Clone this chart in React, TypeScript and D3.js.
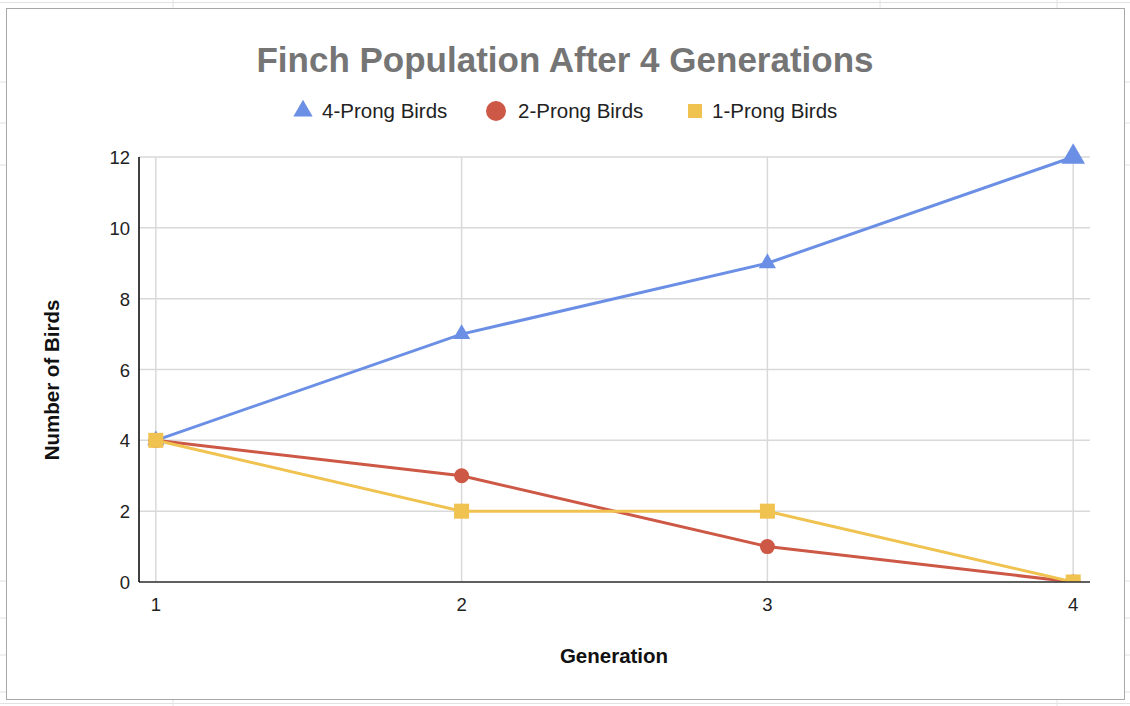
import React, { useEffect, useRef } from "react";
import * as d3 from "d3";

const generations = [1, 2, 3, 4];
const fourProng = [4, 7, 9, 12];
const twoProng = [4, 3, 1, 0];
const oneProng = [4, 2, 2, 0];
const yTicks = [0, 2, 4, 6, 8, 10, 12];

const series = [
  { name: "4-Prong Birds", values: fourProng, color: "#6b8fe5", shape: "triangle" },
  { name: "2-Prong Birds", values: twoProng, color: "#cd5846", shape: "circle" },
  { name: "1-Prong Birds", values: oneProng, color: "#f0c24f", shape: "square" },
];

const W = 1130;
const H = 706;
const FONT = "'Liberation Sans', Arial, sans-serif";

const drawMarker = (g: any, shape: string, color: string, size: number) => {
  if (shape === "triangle") {
    g.append("path")
      .attr("d", d3.symbol().type(d3.symbolTriangle).size(size * size * 0.5)())
      .attr("fill", color);
  } else if (shape === "circle") {
    g.append("circle").attr("r", size / 2).attr("fill", color);
  } else {
    g.append("rect")
      .attr("x", -size / 2)
      .attr("y", -size / 2)
      .attr("width", size)
      .attr("height", size)
      .attr("fill", color);
  }
};

const App = () => {
  const svgRef = useRef<SVGSVGElement>(null);

  useEffect(() => {
    const svg = d3.select(svgRef.current);
    svg.selectAll("*").remove();

    const left = 139;
    const right = 1090;
    const top = 157;
    const bottom = 582;

    // faint sheet cell lines around the chart frame
    const sheet = svg.append("g").attr("stroke", "#e2e2e2").attr("stroke-width", 1);
    sheet.append("line").attr("x1", 0).attr("x2", W).attr("y1", 2.5).attr("y2", 2.5);
    sheet.append("line").attr("x1", 0).attr("x2", W).attr("y1", 703.5).attr("y2", 703.5);
    [173, 880, 1057].forEach((x) =>
      sheet.append("line").attr("x1", x).attr("x2", x).attr("y1", 0).attr("y2", 8)
    );
    [173, 1057].forEach((x) =>
      sheet.append("line").attr("x1", x).attr("x2", x).attr("y1", 700).attr("y2", H)
    );
    [82, 123, 165, 581, 618, 655, 692].forEach((y) => {
      sheet.append("line").attr("x1", 0).attr("x2", 6).attr("y1", y).attr("y2", y);
      sheet.append("line").attr("x1", 1125).attr("x2", W).attr("y1", y).attr("y2", y);
    });

    svg
      .append("rect")
      .attr("x", 6.5)
      .attr("y", 8.5)
      .attr("width", 1118)
      .attr("height", 691)
      .attr("fill", "#fff")
      .attr("stroke", "#a8a8a8");

    const x = d3
      .scalePoint<number>()
      .domain(generations)
      .range([left, right])
      .padding(0.055);
    const y = d3.scaleLinear().domain([0, 12]).range([bottom, top]);

    // grid
    const grid = svg.append("g").attr("stroke", "#d9d9d9").attr("stroke-width", 1.5);
    yTicks.forEach((t) =>
      grid
        .append("line")
        .attr("x1", left)
        .attr("x2", right)
        .attr("y1", y(t))
        .attr("y2", y(t))
    );
    generations.forEach((g) =>
      grid
        .append("line")
        .attr("x1", x(g)!)
        .attr("x2", x(g)!)
        .attr("y1", top)
        .attr("y2", bottom)
    );

    // tick labels
    svg
      .append("g")
      .selectAll("text")
      .data(yTicks)
      .join("text")
      .attr("x", left - 9)
      .attr("y", (d) => y(d) + 7)
      .attr("text-anchor", "end")
      .attr("font-family", FONT)
      .attr("font-size", 18.5)
      .attr("fill", "#222")
      .text((d) => d);
    svg
      .append("g")
      .selectAll("text")
      .data(generations)
      .join("text")
      .attr("x", (d) => x(d)!)
      .attr("y", bottom + 29)
      .attr("text-anchor", "middle")
      .attr("font-family", FONT)
      .attr("font-size", 18.5)
      .attr("fill", "#222")
      .text((d) => d);

    svg
      .append("defs")
      .append("clipPath")
      .attr("id", "plot-clip")
      .append("rect")
      .attr("x", 0)
      .attr("y", 0)
      .attr("width", W)
      .attr("height", bottom);

    const plot = svg.append("g").attr("clip-path", "url(#plot-clip)");
    const line = d3
      .line<number>()
      .x((_, i) => x(generations[i])!)
      .y((d) => y(d));

    series.forEach((s) => {
      plot
        .append("path")
        .attr("d", line(s.values))
        .attr("fill", "none")
        .attr("stroke", s.color)
        .attr("stroke-width", 3);
    });
    series.forEach((s) => {
      s.values.forEach((v, i) => {
        const g = plot
          .append("g")
          .attr("transform", `translate(${x(generations[i])},${y(v)})`);
        drawMarker(g, s.shape, s.color, s.shape === "triangle" ? (v === 12 ? 22 : 16) : 15);
      });
    });

    // axes lines
    svg
      .append("line")
      .attr("x1", left)
      .attr("x2", right)
      .attr("y1", bottom)
      .attr("y2", bottom)
      .attr("stroke", "#333")
      .attr("stroke-width", 1.5);
    svg
      .append("line")
      .attr("x1", left)
      .attr("x2", left)
      .attr("y1", top)
      .attr("y2", bottom)
      .attr("stroke", "#000")
      .attr("stroke-width", 1.5);

    svg
      .append("text")
      .attr("x", 565)
      .attr("y", 72)
      .attr("text-anchor", "middle")
      .attr("font-family", FONT)
      .attr("font-weight", "bold")
      .attr("font-size", 35)
      .attr("fill", "#757575")
      .text("Finch Population After 4 Generations");

    // legend
    const legendX = [303, 496, 695];
    series.forEach((s, i) => {
      const g = svg.append("g").attr("transform", `translate(${legendX[i]},111)`);
      drawMarker(g, s.shape, s.color, s.shape === "circle" ? 20 : s.shape === "square" ? 14 : 18);
      g.append("text")
        .attr("x", s.shape === "square" ? 17 : s.shape === "circle" ? 22 : 19)
        .attr("y", 7)
        .attr("font-family", FONT)
        .attr("font-size", 20.5)
        .attr("fill", "#222")
        .text(s.name);
    });

    svg
      .append("text")
      .attr("transform", `translate(59,380) rotate(-90)`)
      .attr("text-anchor", "middle")
      .attr("font-family", FONT)
      .attr("font-weight", "bold")
      .attr("font-size", 20.5)
      .attr("fill", "#111")
      .text("Number of Birds");
    svg
      .append("text")
      .attr("x", 614)
      .attr("y", 663)
      .attr("text-anchor", "middle")
      .attr("font-family", FONT)
      .attr("font-weight", "bold")
      .attr("font-size", 20.5)
      .attr("fill", "#111")
      .text("Generation");
  }, []);

  return (
    <svg
      ref={svgRef}
      width={W}
      height={H}
      style={{ position: "fixed", left: 0, top: 0, background: "#fff" }}
    />
  );
};

export default App;
